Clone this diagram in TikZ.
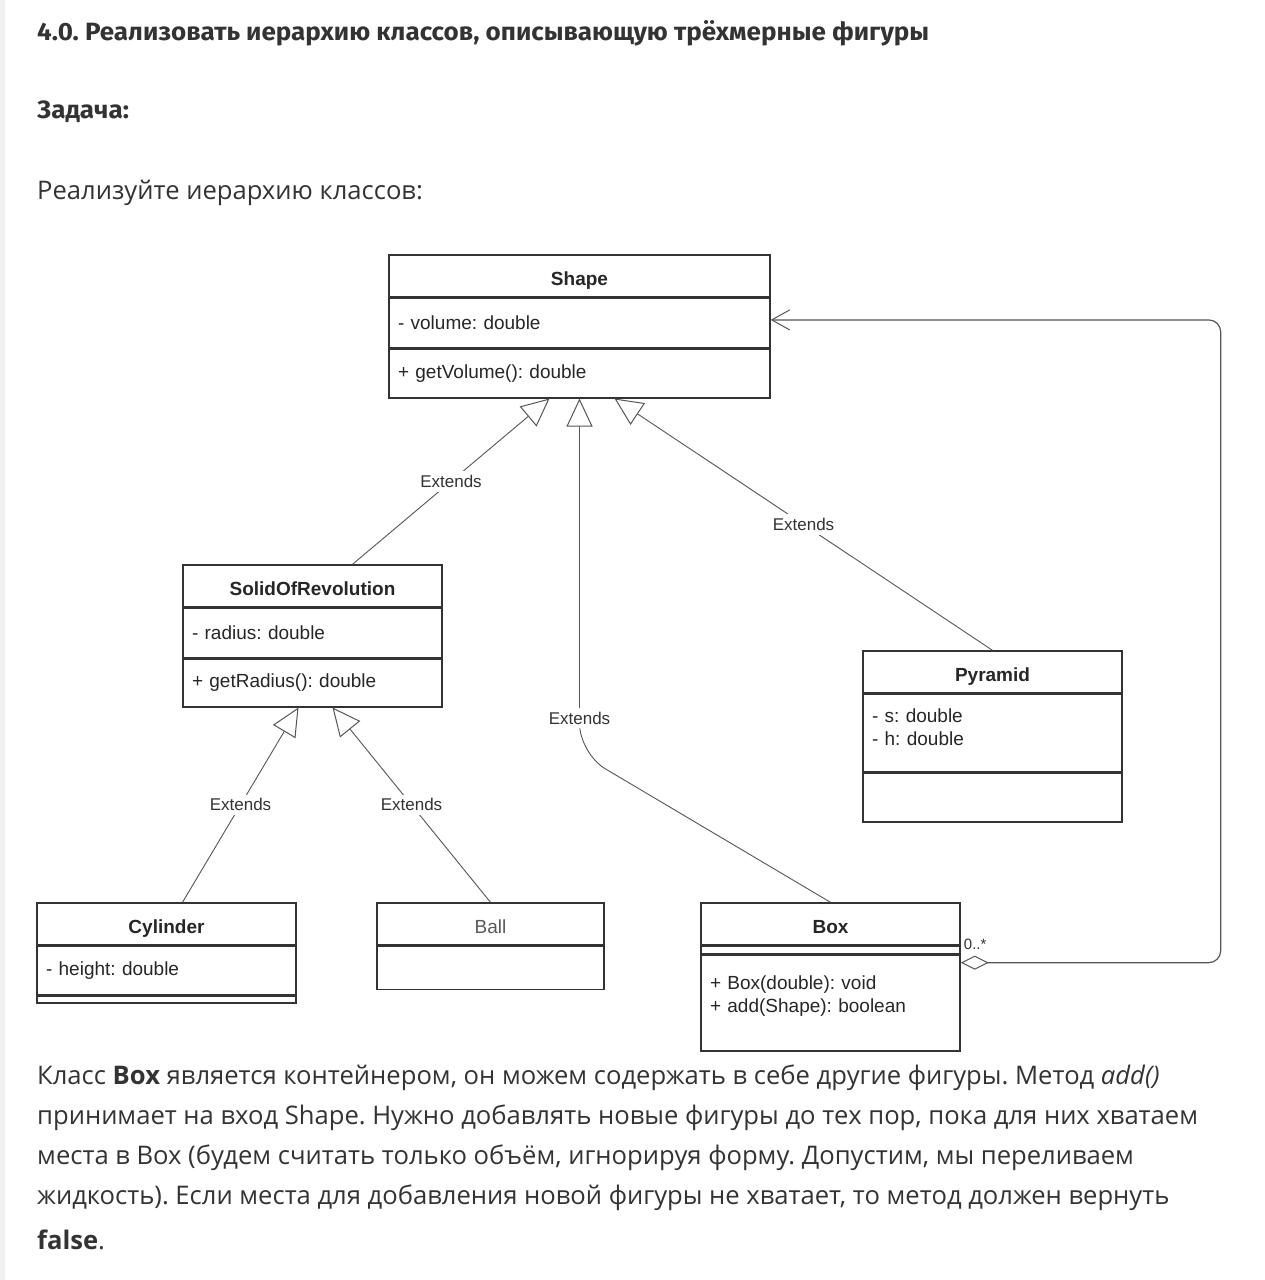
\documentclass[tikz,border=0pt]{standalone}
\usepackage{fontspec}
\setmainfont{Open Sans}
\newfontfamily\headfont[FakeStretch=1.04]{Fira Sans}
\newfontfamily\umlfont{Liberation Sans}
\usetikzlibrary{positioning}
\usetikzlibrary{arrows.meta}
\usetikzlibrary{calc}
\definecolor{ink}{HTML}{333333}
\definecolor{edge}{HTML}{555555}
\frenchspacing

\begin{document}
\begin{tikzpicture}[x=1pt, y=-1pt,
        head/.style={rectangle, draw=ink, line width=1.4pt, text width=#1, align=center, inner xsep=9pt, inner ysep=0pt, minimum height=42pt, text height=19pt, text depth=0pt, font=\umlfont\fontsize{19}{23}\selectfont\bfseries, text=black!85},
        part/.style={rectangle, draw=ink, line width=1.4pt, text width=#1, align=left, inner xsep=9pt, inner ysep=0pt, font=\umlfont\fontsize{19}{23}\selectfont, text=black!85},
        ext/.style={draw=edge, line width=0.9pt, -{Triangle[open, length=28pt, width=26pt, line width=1pt]}},
        agg/.style={draw=edge, line width=1.2pt, rounded corners=12pt, {Diamond[open, length=28pt, width=14pt, line width=1pt]}-{Straight Barb[length=18pt, width=20pt, line width=1pt]}},
        lbl/.style={fill=white, inner sep=4pt, font=\umlfont\fontsize{17}{20}\selectfont, text=black!80},
        mult/.style={inner sep=0pt, font=\umlfont\fontsize{15}{18}\selectfont, text=black!80},
        txt/.style={anchor=west, inner sep=0pt, font=\fontsize{25.6}{30}\selectfont, text=ink},
        hd/.style={anchor=west, inner sep=0pt, font=\headfont\fontsize{25}{30}\selectfont\bfseries, text=ink}
      ]
        \useasboundingbox (0,0) rectangle (1265,1280);
        \fill[black!6] (0,0) rectangle (5,1280);

        % text above
        \node[hd]   (title)  at (37,33)   {4.0. Реализовать иерархию классов, описывающую трёхмерные фигуры};
        \node[hd]   (task)   at (37,112)  {Задача:};
        \node[txt]  (intro)  at (37,193)  {Реализуйте иерархию классов:};

        % classes
        \node[head=363pt]  (shapeT)  at (579.5,276)                                {Shape};
        \node[part=363pt]  (shapeA)  [below=0pt of shapeT, minimum height=49pt]    {- volume: double};
        \node[part=363pt]  (shapeO)  [below=0pt of shapeA, minimum height=49pt]    {+ getVolume(): double};

        \node[head=241pt]  (sorT)    at (312.5,586)                                {SolidOfRevolution};
        \node[part=241pt]  (sorA)    [below=0pt of sorT, minimum height=49pt]      {- radius: double};
        \node[part=241pt]  (sorO)    [below=0pt of sorA, minimum height=48pt]      {+ getRadius(): double};

        \node[head=241pt]  (pyrT)    at (992.5,672)                                {Pyramid};
        \node[part=241pt]  (pyrA)    [below=0pt of pyrT, minimum height=77pt]      {\parbox[t][49pt][t]{241pt}{- s: double\\- h: double}};
        \node[part=241pt]  (pyrO)    [below=0pt of pyrA, minimum height=49pt]      {};

        \node[head=241pt]  (cylT)    at (166.5,924)                                {Cylinder};
        \node[part=241pt]  (cylA)    [below=0pt of cylT, minimum height=48pt]      {- height: double};
        \node[part=241pt]  (cylO)    [below=0pt of cylA, minimum height=7pt]       {};

        \node[head=209pt, font=\umlfont\fontsize{19}{23}\selectfont, text=black!65]  (ballT)  at (490.5,924)  {Ball};
        \node[part=209pt]  (ballA)   [below=0pt of ballT, minimum height=43pt]     {};

        \node[head=241pt]  (boxT)    at (830.5,924)                                {Box};
        \node[part=241pt]  (boxA)    [below=0pt of boxT, minimum height=7pt]       {};
        \node[part=241pt]  (boxO)    [below=0pt of boxA, minimum height=96pt]      {\parbox[t][54pt][t]{241pt}{+ Box(double): void\\+ add(Shape): boolean}};

        % extends
        \draw[ext]  ($(sorT.north)+(40,0)$) -- node[lbl] {Extends} ($(shapeO.south)+(-30,0)$);
        \draw[ext]  (pyrT.north) -- node[lbl] {Extends} ($(shapeO.south)+(35,0)$);
        \draw[ext]  ($(cylT.north)+(16,0)$) -- node[lbl] {Extends} ($(sorO.south)+(-14,0)$);
        \draw[ext]  (ballT.north) -- node[lbl] {Extends} ($(sorO.south)+(20,0)$);
        \coordinate (bend) at ($(shapeO.south)+(0,355)$);
        \draw[ext, rounded corners=30pt]  (boxT.north) -- (bend) -- node[lbl, pos=0.1] {Extends} (shapeO.south);

        % aggregation
        \coordinate (aggstart) at ($(boxT.south east)+(0,17)$);
        \coordinate (aggend)   at ($(shapeA.east)+(0,-3)$);
        \draw[agg]  (aggstart) -- ++(260,0) |- (aggend);
        \node[mult, anchor=south west]  (many)  at ($(aggstart)+(3,-13)$)  {0..*};

        % text below
        \node[txt]  (line1)  at (37,1078)  {Класс \textbf{Box} является контейнером, он можем содержать в себе другие фигуры. Метод \textit{add()}};
        \node[txt]  (line2)  at (37,1118)  {принимает на вход Shape. Нужно добавлять новые фигуры до тех пор, пока для них хватаем};
        \node[txt]  (line3)  at (37,1158)  {места в Box (будем считать только объём, игнорируя форму. Допустим, мы переливаем};
        \node[txt]  (line4)  at (37,1198)  {жидкость). Если места для добавления новой фигуры не хватает, то метод должен вернуть};
        \node[txt]  (line5)  at (37,1240)  {\textbf{false}.};
      \end{tikzpicture}
\end{document}
